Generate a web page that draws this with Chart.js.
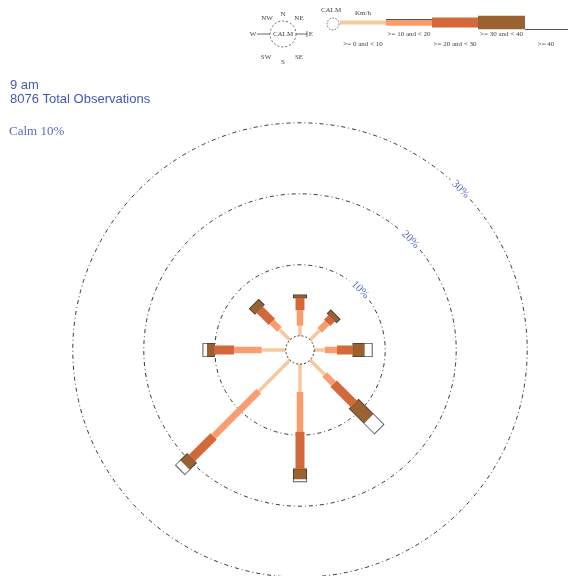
<!DOCTYPE html>
<html>
<head>
<meta charset="utf-8">
<script src="https://cdn.jsdelivr.net/npm/chart.js@4/dist/chart.umd.min.js"></script>
<style>
  html, body { margin: 0; padding: 0; background: #fff; }
  #wrap { width: 568px; height: 576px; position: relative; }
</style>
</head>
<body>
<div id="wrap"><canvas id="rose"></canvas></div>
<script>
// Wind rose, 9 am: percentage of observations by direction and speed class (km/h)
const directions = ['N', 'NE', 'E', 'SE', 'S', 'SW', 'W', 'NW'];
const speedClasses = ['>= 0 and < 10', '>= 10 and < 20', '>= 20 and < 30', '>= 30 and < 40', '>= 40'];
const speed0to10  = [1.4, 1.9, 1.5, 2.9, 3.9, 6.2, 3.4, 2.1];
const speed10to20 = [2.2, 1.5, 1.7, 1.8, 5.6, 9.0, 3.9, 1.5];
const speed20to30 = [1.8, 1.0, 2.3, 4.1, 5.3, 4.4, 2.8, 2.5];
const speed30to40 = [0.3, 0.6, 1.6, 2.9, 1.4, 1.3, 1.0, 1.0];
const speed40plus = [0.0, 0.0, 1.0, 2.0, 0.3, 0.9, 0.5, 0.0];
const calmPercent = 10;
const totalObservations = 8076;
const timeLabel = '9 am';
const ringLevels = [10, 20, 30];
const ringLabels = ['10%', '20%', '30%'];

// drawing styles
const HUB = 2.0;            // radius of the calm hub, in percent units
const classColors = ['#f6c99c', '#f99d6e', '#d3683a', '#9a6230', '#ffffff'];
const classWidths = [3.5, 6.5, 9, 12.5, 12.5];
const OUTLINE = '#3a3a3a';
const BLUE = '#4556b9';

const series = [speed0to10, speed10to20, speed20to30, speed30to40, speed40plus];

function polar(r, i) {
  const a = i * Math.PI / 4;
  return { x: r * Math.sin(a), y: r * Math.cos(a) };
}

// segment end points along every spoke for one speed class
function segments(k, padIn, padOut) {
  const pts = [];
  directions.forEach((d, i) => {
    let r0 = HUB;
    for (let j = 0; j < k; j++) r0 += series[j][i];
    const v = series[k][i];
    if (v <= 0) return;
    pts.push(polar(r0 - padIn, i), polar(r0 + v + padOut, i), { x: null, y: null });
  });
  return pts;
}

function lineSet(label, data, color, width, order) {
  return {
    label, data, showLine: true, borderColor: color, backgroundColor: color,
    borderWidth: width, pointRadius: 0, borderCapStyle: 'butt', spanGaps: false, order
  };
}

const datasets = [
  lineSet(speedClasses[0], segments(0, 0, 0), classColors[0], classWidths[0], 5),
  lineSet(speedClasses[1], segments(1, 0, 0), classColors[1], classWidths[1], 4),
  lineSet(speedClasses[2], segments(2, 0, 0), classColors[2], classWidths[2], 3),
  lineSet('outline 30-40', segments(3, 0.1, 0.12), OUTLINE, classWidths[3] + 1.6, 9),
  lineSet(speedClasses[3], segments(3, 0, 0), classColors[3], classWidths[3], 2),
  lineSet('outline 40+', segments(4, 0, 0.14), '#555', classWidths[4] + 1.6, 8),
  lineSet(speedClasses[4], segments(4, 0, 0), classColors[4], classWidths[4], 1)
];

const PX = 7.1; // pixels per percent
const cx = 300, cy = 350;

const decorations = {
  id: 'decorations',
  beforeDatasetsDraw(chart) {
    const { ctx, scales: { x, y } } = chart;
    const ox = x.getPixelForValue(0), oy = y.getPixelForValue(0);
    ctx.save();
    ctx.strokeStyle = '#333';
    ctx.lineWidth = 1;
    ctx.setLineDash([4, 3, 1, 3]);
    ctx.font = '11px "Liberation Serif"';
    ringLevels.forEach((lvl, n) => {
      const r = x.getPixelForValue(HUB + lvl) - ox;
      const tw = ctx.measureText(ringLabels[n]).width;
      const gap = (tw / 2 + 4) / r;
      const mid = -Math.PI / 4;
      ctx.beginPath();
      ctx.arc(ox, oy, r, mid + gap, mid - gap + 2 * Math.PI);
      ctx.stroke();
    });
    ctx.setLineDash([]);
    ctx.fillStyle = '#5567c6';
    ctx.textAlign = 'center';
    ctx.textBaseline = 'middle';
    ringLevels.forEach((lvl, n) => {
      const r = x.getPixelForValue(HUB + lvl) - ox;
      ctx.save();
      ctx.translate(ox + r * Math.SQRT1_2, oy - r * Math.SQRT1_2);
      ctx.rotate(Math.PI / 4);
      ctx.fillText(ringLabels[n], 0, 0);
      ctx.restore();
    });
    ctx.restore();
  },
  afterDatasetsDraw(chart) {
    const { ctx, scales: { x, y } } = chart;
    const ox = x.getPixelForValue(0), oy = y.getPixelForValue(0);
    const r = x.getPixelForValue(HUB) - ox;
    ctx.save();
    ctx.beginPath();
    ctx.arc(ox, oy, r, 0, 2 * Math.PI);
    ctx.fillStyle = '#fff';
    ctx.fill();
    ctx.setLineDash([2, 2]);
    ctx.strokeStyle = '#333';
    ctx.lineWidth = 1;
    ctx.stroke();
    ctx.restore();
  },
  afterDraw(chart) {
    const ctx = chart.ctx;
    ctx.save();
    // heading
    ctx.fillStyle = BLUE;
    ctx.textAlign = 'left';
    ctx.textBaseline = 'alphabetic';
    ctx.font = '13px "Liberation Sans"';
    ctx.fillText(timeLabel, 10, 89);
    ctx.fillText(totalObservations + ' Total Observations', 10, 103);
    ctx.fillStyle = '#5a6cc2';
    ctx.font = '13px "Liberation Serif"';
    ctx.fillText('Calm ' + calmPercent + '%', 9, 135);

    // compass key
    const kx = 283, ky = 34;
    ctx.strokeStyle = '#444';
    ctx.lineWidth = 0.8;
    ctx.setLineDash([2, 2]);
    ctx.beginPath();
    ctx.arc(kx, ky, 13, 0, 2 * Math.PI);
    ctx.stroke();
    ctx.setLineDash([]);
    ctx.beginPath();
    ctx.moveTo(257, ky); ctx.lineTo(270, ky);
    ctx.moveTo(296, ky); ctx.lineTo(307, ky);
    ctx.moveTo(307, ky - 3); ctx.lineTo(307, ky + 3);
    ctx.stroke();
    ctx.fillStyle = '#444';
    ctx.font = '7px "Liberation Serif"';
    ctx.textAlign = 'center';
    ctx.textBaseline = 'middle';
    ctx.fillText('CALM', kx, ky);
    const kpos = { N: [283, 14], NE: [299, 18], E: [311, 34], SE: [299, 57], S: [283, 62], SW: [266, 57], W: [253, 34], NW: [267, 18] };
    directions.forEach(d => ctx.fillText(d, kpos[d][0], kpos[d][1]));

    // speed key
    ctx.fillText('CALM', 331, 10);
    ctx.fillText('Km/h', 363, 13);
    ctx.setLineDash([1.5, 1.5]);
    ctx.beginPath();
    ctx.arc(333, 24, 6, 0, 2 * Math.PI);
    ctx.stroke();
    ctx.setLineDash([]);
    const keyX = [340, 386, 432, 478, 525, 568];
    const keyH = [4, 6.5, 10, 13.5];
    for (let k = 0; k < 4; k++) {
      ctx.fillStyle = classColors[k];
      ctx.fillRect(keyX[k], 22.5 - keyH[k] / 2, keyX[k + 1] - keyX[k], keyH[k]);
    }
    ctx.strokeStyle = '#555';
    ctx.lineWidth = 1;
    ctx.beginPath();
    ctx.moveTo(386, 19.5); ctx.lineTo(432, 19.5);
    ctx.moveTo(525, 29.5); ctx.lineTo(568, 29.5);
    ctx.stroke();
    ctx.fillStyle = '#444';
    ctx.font = '7px "Liberation Serif"';
    speedClasses.forEach((s, k) => {
      const mx = k < 4 ? (keyX[k] + keyX[k + 1]) / 2 : 546;
      ctx.fillText(s, mx, k % 2 === 0 ? 44 : 34);
    });
    ctx.restore();
  }
};

new Chart(document.getElementById('rose'), {
  type: 'scatter',
  data: { datasets },
  options: {
    responsive: true,
    maintainAspectRatio: false,
    animation: false,
    events: [],
    layout: { padding: 0, autoPadding: false },
    plugins: { legend: { display: false }, tooltip: { enabled: false }, title: { display: false } },
    scales: {
      x: { type: 'linear', display: false, min: -cx / PX, max: (568 - cx) / PX },
      y: { type: 'linear', display: false, min: -(576 - cy) / PX, max: cy / PX }
    }
  },
  plugins: [decorations]
});
</script>
</body>
</html>
